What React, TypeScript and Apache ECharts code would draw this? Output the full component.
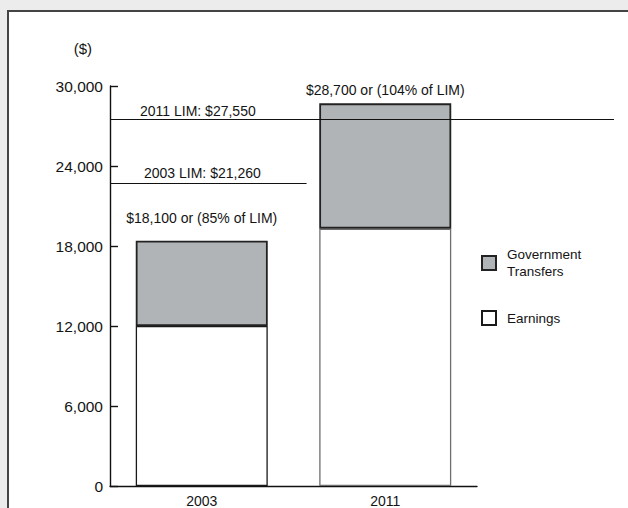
import React, { useEffect, useRef } from "react";
import * as echarts from "echarts";

const categories = ["2003", "2011"];
const earnings = [12000, 19300];
const transfers = [6400, 9400];
const totalLabels = ["$18,100 or (85% of LIM)", "$28,700 or (104% of LIM)"];
const limValues = [22750, 27500];
const limLabels = ["2003 LIM: $21,260", "2011 LIM: $27,550"];
const limLineEnds = [0.39, 1];
const yTicks = { min: 0, max: 30000, interval: 6000 };

const FONT = "'Liberation Sans', Arial, sans-serif";
const TEXT = "#141414";

export default function App() {
  const ref = useRef<HTMLDivElement>(null);
  useEffect(() => {
    if (!ref.current) return;
    const chart = echarts.init(ref.current, null, { renderer: "svg" });
    const grid = { left: 110, right: 151, top: 86, bottom: 21 };
    const option: any = {
      animation: false,
      textStyle: { fontFamily: FONT, color: TEXT },
      grid: [grid, { left: 110, right: 14, top: 86, bottom: 21 }],
      xAxis: [
        {
          type: "category",
          gridIndex: 0,
          data: categories,
          axisLine: { lineStyle: { color: "#111", width: 1.4 } },
          axisTick: { inside: true, length: 9, lineStyle: { color: "#111", width: 1.4 } },
          axisLabel: { fontSize: 14, color: TEXT, margin: 8, fontFamily: FONT },
        },
        { type: "value", gridIndex: 1, min: 0, max: 1, show: false },
      ],
      yAxis: [
        {
          type: "value",
          gridIndex: 0,
          min: yTicks.min,
          max: yTicks.max,
          interval: yTicks.interval,
          name: "($)",
          nameLocation: "end",
          nameGap: 30,
          nameTextStyle: { fontSize: 15, color: TEXT, align: "right", padding: [0, 18, 0, 0], fontFamily: FONT },
          axisLine: { show: true, lineStyle: { color: "#111", width: 1.4 } },
          axisTick: { show: true, inside: true, length: 8, lineStyle: { color: "#111", width: 1.4 } },
          splitLine: { show: false },
          axisLabel: {
            fontSize: 15.5,
            color: TEXT,
            margin: 7,
            fontFamily: FONT,
            formatter: (v: number) => v.toLocaleString("en-US"),
          },
        },
        { type: "value", gridIndex: 1, min: yTicks.min, max: yTicks.max, show: false },
      ],
      legend: {
        orient: "vertical",
        left: 481,
        top: 237.5,
        padding: 0,
        itemWidth: 14,
        itemHeight: 14,
        itemGap: 21,
        icon: "rect",
        selectedMode: false,
        textStyle: { fontSize: 13.5, color: TEXT, lineHeight: 17, fontFamily: FONT },
        formatter: (name: string) => (name === "Government Transfers" ? "Government\nTransfers" : name),
        data: [
          { name: "Government Transfers", textStyle: { padding: [17, 0, 0, 6] } },
          { name: "Earnings", textStyle: { padding: [0, 0, 0, 6] } },
        ],
      },
      series: [
        {
          name: "Earnings",
          type: "bar",
          stack: "total",
          xAxisIndex: 0,
          yAxisIndex: 0,
          barWidth: 132,
          itemStyle: { color: "#ffffff", borderColor: "#1a1a1a", borderWidth: 1.3 },
          data: earnings.map((v, i) =>
            i === 1 ? { value: v, itemStyle: { borderColor: "#6e6e6e" } } : v
          ),
        },
        {
          name: "Government Transfers",
          type: "bar",
          stack: "total",
          xAxisIndex: 0,
          yAxisIndex: 0,
          barWidth: 132,
          itemStyle: { color: "#b1b4b6", borderColor: "#222222", borderWidth: 1.8 },
          label: {
            show: true,
            position: "top",
            fontSize: 14,
            color: TEXT,
            fontFamily: FONT,
            formatter: (p: any) => totalLabels[p.dataIndex],
          },
          data: transfers.map((v, i) => ({
            value: v,
            label: { distance: i === 0 ? 16 : 6 },
          })),
        },
        {
          name: "LIM",
          type: "line",
          xAxisIndex: 1,
          yAxisIndex: 1,
          data: [],
          markLine: {
            silent: true,
            animation: false,
            symbol: ["none", "none"],
            lineStyle: { color: "#111", width: 1.2, type: "solid" },
            label: {
              show: true,
              position: "insideStartTop",
              fontSize: 14,
              color: TEXT,
              fontFamily: FONT,
            },
            data: limValues.map((v, i) => [
              {
                coord: [0, v],
                label: {
                  formatter: limLabels[i],
                  padding: [0, 0, 0, i === 0 ? 31 : 29],
                  distance: i === 0 ? 3 : 1,
                },
              },
              { coord: [limLineEnds[i], v] },
            ]),
          },
        },
      ],
    };
    chart.setOption(option);
    return () => chart.dispose();
  }, []);

  return (
    <div
      style={{
        position: "fixed",
        left: 0,
        top: 0,
        width: 628,
        height: 508,
        overflow: "hidden",
        background: "#ececec",
      }}
    >
      <div
        style={{
          position: "absolute",
          left: 7,
          top: 10,
          width: 700,
          height: 600,
          border: "2px solid #444",
          background: "#ffffff",
        }}
      />
      <div ref={ref} style={{ position: "absolute", left: 0, top: 0, width: 628, height: 508 }} />
    </div>
  );
}
